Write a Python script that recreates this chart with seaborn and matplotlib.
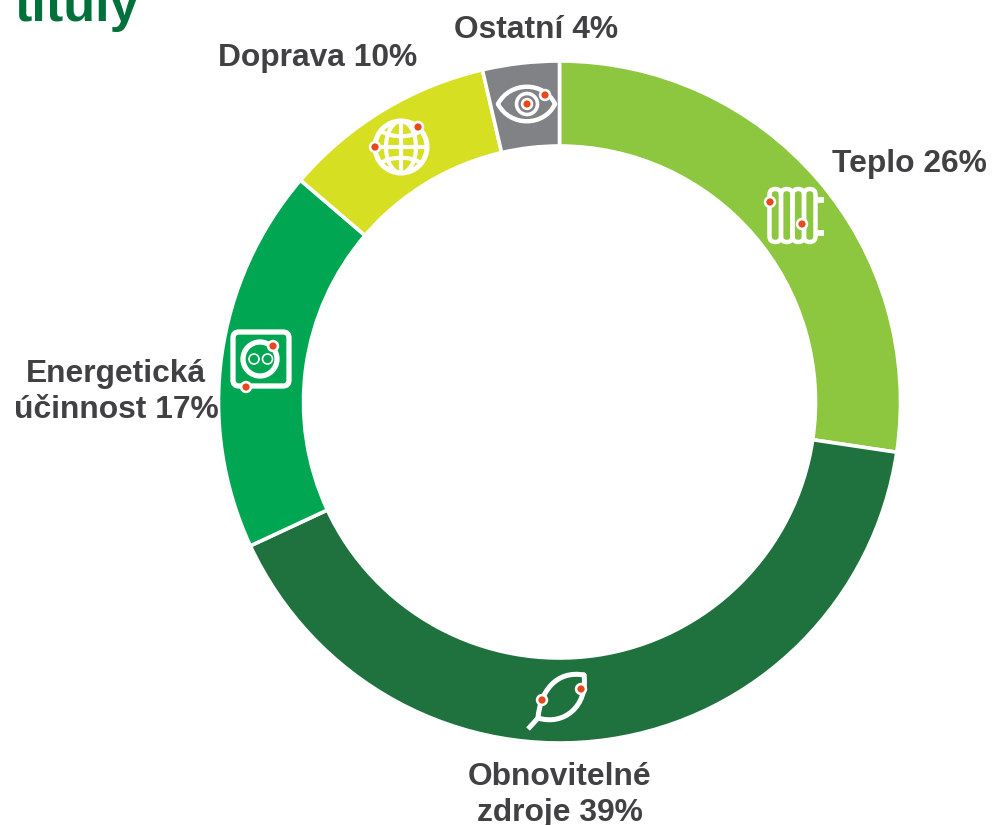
import numpy as np
import matplotlib
matplotlib.use("Agg")
import matplotlib.pyplot as plt
from matplotlib.patches import Circle, Ellipse, FancyBboxPatch, PathPatch
from matplotlib.path import Path
import seaborn as sns

labels = ["Teplo 26%", "Obnovitelné\nzdroje 39%", "Energetická\núčinnost 17%", "Doprava 10%", "Ostatní 4%"]
shares = [26.0, 38.7, 17.3, 9.6, 3.45]
colors = ["#8DC63F", "#1F723D", "#00A651", "#D7DF23", "#808285"]
label_centers = [(909, 164), (560, 795), (116, 392), (318, 58), (536, 29.5)]
title_text = "tituly"

W, H = 993, 825
sns.set_theme(style="white")
plt.rcParams["font.family"] = ["Liberation Sans", "DejaVu Sans"]

fig = plt.figure(figsize=(W / 100, H / 100), dpi=100)
ax = fig.add_axes([0, 0, 1, 1])


def Y(py):
    return H - py


ax.pie(shares, colors=sns.color_palette(colors), center=(559.5, Y(402)), radius=341,
       startangle=90, counterclock=False, frame=False,
       wedgeprops=dict(width=85, edgecolor="white", linewidth=2.6))
ax.set_aspect("equal")
ax.set_xlim(0, W)
ax.set_ylim(0, H)
ax.axis("off")

for text, (cx, cy) in zip(labels, label_centers):
    ax.text(cx, Y(cy), text, ha="center", va="center", fontsize=22.9, fontweight="bold",
            color="#414042", linespacing=1.27)
ax.text(14, Y(21), title_text, ha="left", va="baseline", fontsize=37.5, fontweight="bold",
        color="#00713A", clip_on=True)

LW = 3.4


def line(xs, ys, lw=LW):
    ax.plot(xs, [Y(v) for v in ys], color="white", lw=lw, solid_capstyle="butt", zorder=5)


def circle(x, y, r, lw=LW):
    ax.add_patch(Circle((x, Y(y)), r, fill=False, ec="white", lw=lw, zorder=5))


def ellipse(x, y, w, h, lw=LW):
    ax.add_patch(Ellipse((x, Y(y)), w, h, fill=False, ec="white", lw=lw, zorder=5))


def rrect(x0, y0, x1, y1, rad, lw=LW):
    ax.add_patch(FancyBboxPatch((x0 + rad, Y(y1) + rad), x1 - x0 - 2 * rad, y1 - y0 - 2 * rad,
                                boxstyle=f"round,pad={rad},rounding_size={rad}",
                                fill=False, ec="white", lw=lw, zorder=5))


def dot(x, y):
    ax.add_patch(Circle((x, Y(y)), 6.2, fc="white", ec="none", zorder=7))
    ax.add_patch(Circle((x, Y(y)), 3.6, fc="#E8481C", ec="none", zorder=8))


def curve(pts, lw=LW):
    verts = [(x, Y(y)) for x, y in pts]
    codes = [Path.MOVETO] + [Path.CURVE4] * (len(pts) - 1)
    ax.add_patch(PathPatch(Path(verts, codes), fill=False, ec="white", lw=lw, zorder=5, capstyle="round"))


# radiator
for x0 in [769.5, 781, 792.5, 804]:
    rrect(x0, 189, x0 + 11.5, 242, 5.7, 3.2)
line([815.5, 824], [200, 200], 4.2)
line([815.5, 824], [233, 233], 4.2)
dot(770, 202)
dot(802, 224)

# socket
rrect(233, 332, 289, 386, 6, 3.8)
circle(260, 359, 17, 3.8)
circle(254, 359, 5, 1.2)
circle(267.5, 359, 5, 1.2)
dot(273, 346)
dot(246, 387)

# globe
circle(401, 147, 26, 3.6)
ellipse(401, 147, 30, 52, 3.0)
line([401, 401], [121, 173], 3.0)
curve([(381, 131), (392, 138), (410, 138), (421, 131)], 3.0)
curve([(381, 163), (392, 156), (410, 156), (421, 163)], 3.0)
line([375, 427], [147, 147], 3.0)
dot(418, 127)
dot(375, 147)

# eye
curve([(498, 104), (510, 81), (544, 81), (555, 104)], 3.2)
curve([(498, 104), (510, 127), (544, 127), (555, 104)], 3.2)
circle(527, 104, 10.5, 2.6)
dot(527, 104)
dot(545, 95)

# leaf
curve([(538, 718), (540, 692), (556, 670), (584, 675)], 3.6)
curve([(538, 718), (564, 726), (588, 706), (584, 675)], 3.6)
line([528, 539], [729, 717], 3.6)
dot(542, 700)
dot(581, 689)

fig.savefig("out.png", dpi=100, facecolor="white")
